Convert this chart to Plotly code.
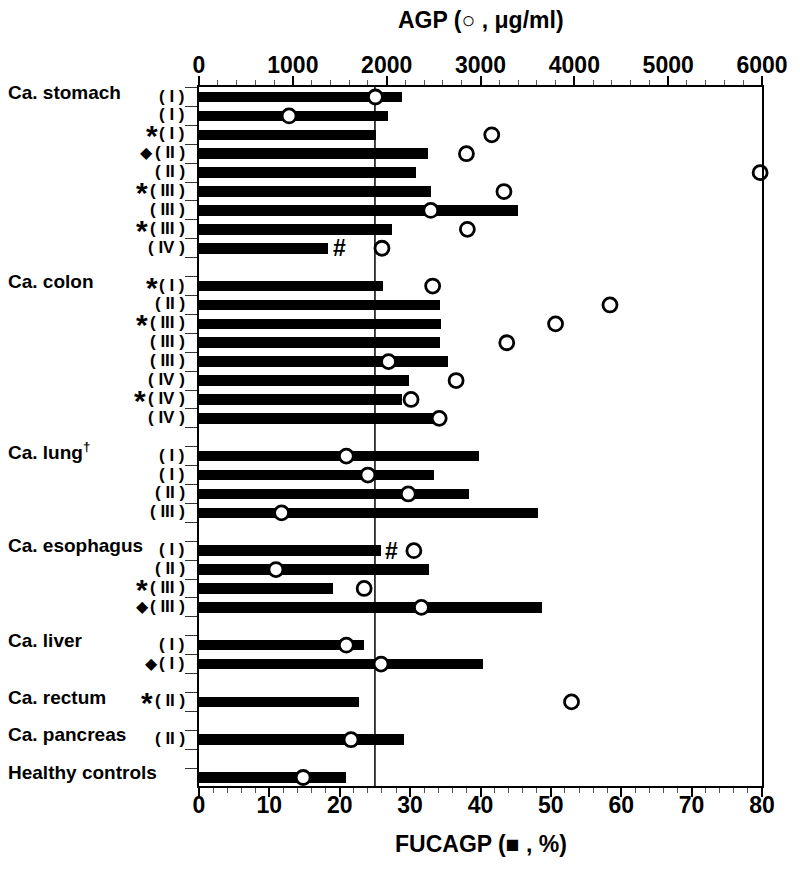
import plotly.graph_objects as go

# ---------------- data ----------------
groups = ["Ca. stomach", "Ca. colon", "Ca. lung<sup>†</sup>", "Ca. esophagus",
          "Ca. liver", "Ca. rectum", "Ca. pancreas", "Healthy controls"]

stages = [
    ["I", "I", "I", "II", "II", "III", "III", "III", "IV"],
    ["I", "II", "III", "III", "III", "IV", "IV", "IV"],
    ["I", "I", "II", "III"],
    ["I", "II", "III", "III"],
    ["I", "I"],
    ["II"],
    ["II"],
    [""],
]

flags = [
    ["", "", "*", "◆", "", "*", "", "*", ""],
    ["*", "", "*", "", "", "", "*", ""],
    ["", "", "", ""],
    ["", "", "*", "◆"],
    ["", "◆"],
    ["*"],
    [""],
    [""],
]

fucagp = [
    [28.8, 26.9, 25.2, 32.5, 30.8, 32.9, 45.3, 27.4, 18.3],
    [26.1, 34.2, 34.4, 34.2, 35.4, 29.8, 28.8, 34.0],
    [39.8, 33.4, 38.3, 48.1],
    [25.8, 32.7, 19.1, 48.8],
    [23.4, 40.4],
    [22.7],
    [29.2],
    [20.9],
]

agp = [
    [1880, 960, 3120, 2850, 5980, 3250, 2470, 2860, 1950],
    [2490, 4380, 3800, 3280, 2020, 2740, 2260, 2560],
    [1570, 1800, 2230, 880],
    [2290, 820, 1760, 2370],
    [1570, 1940],
    [3970],
    [1620],
    [1110],
]

# significance marks "#" (group index, item index, FUCAGP position)
hash_marks = [(0, 8, 19.9), (3, 0, 27.4)]

cutoff = 25

fuc_ticks = [0, 10, 20, 30, 40, 50, 60, 70, 80]
agp_ticks = [0, 1000, 2000, 3000, 4000, 5000, 6000]

# ---------------- layout of rows ----------------
rows_y, fuc_all, agp_all, first_rows = [], [], [], []
r = 0
for gi, vals in enumerate(fucagp):
    first_rows.append(r)
    for vi, v in enumerate(vals):
        rows_y.append(r)
        fuc_all.append(v)
        agp_all.append(agp[gi][vi])
        r += 1
    r += 1
last_row = r - 2

FONT = "Liberation Sans, Arial, sans-serif"
LABEL_SIZE = 17
LABEL_RIGHT = -12          # px from plot's left edge
# approximate advance widths (em) of Liberation Sans Bold
CHAR_W = {"(": 0.333, ")": 0.333, " ": 0.278, "I": 0.278, "V": 0.667}


def text_width(t, size):
    return sum(CHAR_W.get(c, 0.6) for c in t) * size


fig = go.Figure()
fig.add_trace(go.Bar(
    x=fuc_all, y=rows_y, orientation="h", width=0.56,
    marker=dict(color="black", line=dict(width=0)),
    xaxis="x", yaxis="y", showlegend=False,
))
fig.add_trace(go.Scatter(
    x=[cutoff, cutoff], y=[-0.6, last_row + 0.6], mode="lines",
    line=dict(color="black", width=1.5), xaxis="x", yaxis="y", showlegend=False,
))
fig.add_trace(go.Scatter(
    x=agp_all, y=rows_y, mode="markers",
    marker=dict(symbol="circle", size=14, color="white",
                line=dict(color="black", width=2.8)),
    xaxis="x2", yaxis="y", showlegend=False, cliponaxis=False,
))

annotations = []
for gi, g in enumerate(groups):
    annotations.append(dict(
        x=0, xref="paper", y=first_rows[gi] - 0.25, yref="y",
        text=g, showarrow=False, xanchor="left", yanchor="middle", xshift=-193,
        font=dict(family=FONT, size=19, color="black", weight="bold"),
    ))
    for si, s in enumerate(stages[gi]):
        y = first_rows[gi] + si
        if not s:
            continue
        lab = "( " + s + " )"
        annotations.append(dict(
            x=0, xref="paper", y=y, yref="y", yshift=1,
            text=lab, showarrow=False, xanchor="right",
            yanchor="middle", xshift=LABEL_RIGHT,
            font=dict(family=FONT, size=LABEL_SIZE, color="black", weight="bold"),
        ))
        left = LABEL_RIGHT - text_width(lab, LABEL_SIZE)
        f = flags[gi][si]
        if f == "*":
            annotations.append(dict(
                x=0, xref="paper", y=y, yref="y", text="*",
                showarrow=False, xanchor="center", yanchor="middle",
                xshift=left - 10, yshift=-1,
                font=dict(family=FONT, size=30, color="black", weight="bold"),
            ))
        elif f == "◆":
            annotations.append(dict(
                x=0, xref="paper", y=y, yref="y", text="◆",
                showarrow=False, xanchor="center", yanchor="middle",
                xshift=left - 10, yshift=1,
                font=dict(family="DejaVu Sans", size=16, color="black"),
            ))

for gi, vi, xv in hash_marks:
    annotations.append(dict(
        x=xv, xref="x", y=first_rows[gi] + vi, yref="y", text="#",
        showarrow=False, xanchor="center", yanchor="middle",
        font=dict(family=FONT, size=23, color="black", weight="bold"),
    ))

annotations.append(dict(
    x=0.5, xref="paper", y=1, yref="paper", yshift=67, text="AGP (○ , μg/ml)",
    showarrow=False, xanchor="center", yanchor="middle",
    font=dict(family=FONT, size=23, color="black", weight="bold"),
))
annotations.append(dict(
    x=0.5, xref="paper", y=0, yref="paper", yshift=-58, text="FUCAGP (■ , %)",
    showarrow=False, xanchor="center", yanchor="middle",
    font=dict(family=FONT, size=23, color="black", weight="bold"),
))

half_ticks = [i + 0.5 for i in range(-1, last_row + 1)]

fig.update_layout(
    width=792, height=871,
    margin=dict(l=191, r=28, t=79, b=93),
    plot_bgcolor="white", paper_bgcolor="white",
    bargap=0,
    xaxis=dict(
        range=[0, 80], tickvals=fuc_ticks, ticks="outside", ticklen=9,
        tickwidth=1.5, tickcolor="black", showline=True, linecolor="black",
        linewidth=2, showgrid=False, zeroline=False, ticklabelstandoff=-12,
        tickfont=dict(family=FONT, size=23, color="black", weight="bold"),
        minor=dict(dtick=2, ticks="outside", ticklen=5, tickcolor="#555", tickwidth=1),
    ),
    xaxis2=dict(
        range=[0, 6000], tickvals=agp_ticks, overlaying="x", side="top",
        ticks="outside", ticklen=9, tickwidth=1.5, tickcolor="black",
        showline=True, linecolor="black", linewidth=2, showgrid=False,
        zeroline=False, anchor="y", ticklabelstandoff=-6,
        tickfont=dict(family=FONT, size=23, color="black", weight="bold"),
        minor=dict(dtick=200, ticks="outside", ticklen=5, tickcolor="#555", tickwidth=1),
    ),
    yaxis=dict(
        range=[last_row + 0.45, -0.53], tickvals=half_ticks, ticks="outside",
        ticklen=12, tickwidth=1, tickcolor="#333", showticklabels=False,
        showline=True, linecolor="black", linewidth=2, mirror=True,
        showgrid=False, zeroline=False,
    ),
    annotations=annotations,
)

fig.write_html("out.html")
